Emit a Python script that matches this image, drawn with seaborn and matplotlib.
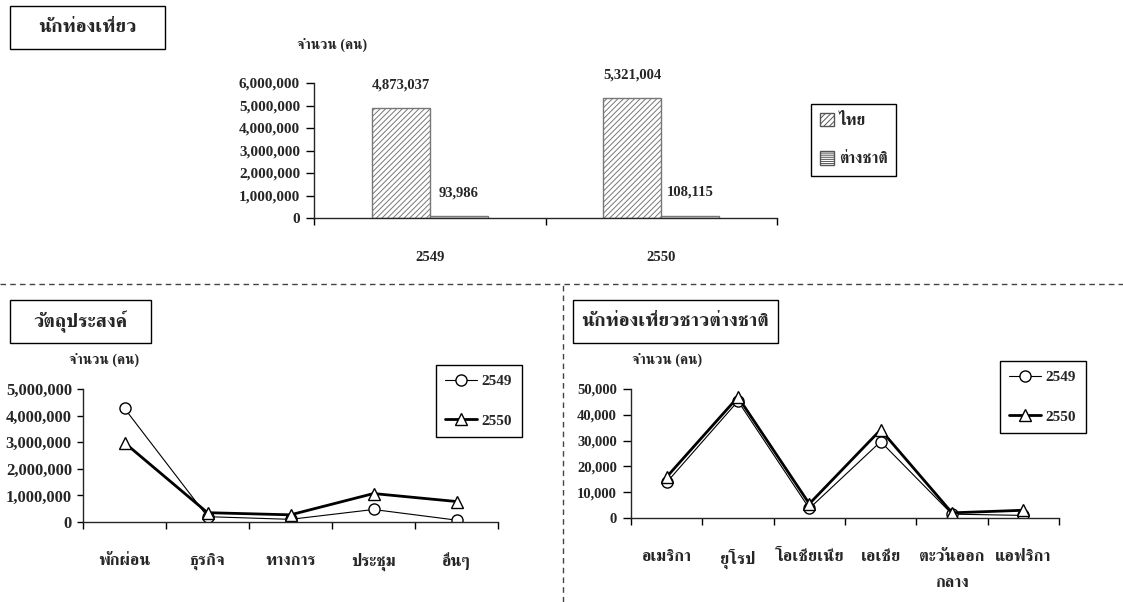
import numpy as np
import pandas as pd
import seaborn as sns
import matplotlib.pyplot as plt
from matplotlib import font_manager
from matplotlib.ft2font import FT2Font
from matplotlib.patches import Patch, Rectangle
from matplotlib.lines import Line2D
from matplotlib.ticker import FuncFormatter

# Tourists by nationality
years = ['2549', '2550']
groups = ['ไทย', 'ต่างชาติ']
thai_tourists = [4873037, 5321004]
foreign_tourists = [93986, 108115]

# Purpose of trip
purposes = ['พักผ่อน', 'ธุรกิจ', 'ทางการ', 'ประชุม', 'อื่นๆ']
purpose_2549 = [4270000, 200000, 100000, 470000, 70000]
purpose_2550 = [2980000, 350000, 270000, 1070000, 770000]

# Foreign tourists by region
regions = ['อเมริกา', 'ยุโรป', 'โอเชียเนีย', 'เอเชีย', 'ตะวันออก\nกลาง', 'แอฟริกา']
region_2549 = [13800, 45300, 3700, 29600, 1500, 1000]
region_2550 = [15900, 46900, 5500, 34200, 2000, 3000]


def find_thai_font():
    # pick an installed family that has Thai glyphs, bold face preferred
    fams = {}
    for f in font_manager.fontManager.ttflist:
        try:
            if 0x0E01 in FT2Font(f.fname).get_charmap():
                w = f.weight if isinstance(f.weight, int) else 400
                fams[f.name] = max(fams.get(f.name, 0), w)
        except Exception:
            continue
    names = sorted(fams, key=lambda n: (fams[n] < 600, 'Serif' not in n, 'Thai' not in n, n))
    return names[0] if names else 'DejaVu Sans'


sns.set_style('ticks')
thai = find_thai_font()
plt.rcParams['font.family'] = ['Liberation Serif', thai, 'DejaVu Sans']
plt.rcParams['font.weight'] = 'bold'
plt.rcParams['hatch.linewidth'] = 0.7
plt.rcParams['axes.linewidth'] = 1.0

W, H = 1123, 602
fig = plt.figure(figsize=(W / 100, H / 100), dpi=100)


def px_box(x0, y0, x1, y1):
    return [x0 / W, 1 - y1 / H, (x1 - x0) / W, (y1 - y0) / H]


def title_box(x0, y0, x1, y1, text):
    fig.add_artist(Rectangle((x0 / W, 1 - y1 / H), (x1 - x0) / W, (y1 - y0) / H,
                             transform=fig.transFigure, fill=False, ec='black', lw=1))
    fig.text((x0 + x1) / 2 / W, 1 - (y0 + y1) / 2 / H, text, ha='center', va='center',
             fontsize=14)


def style_axis(ax, labels, ymax, step, tick_len, label_pad, xsize, ysize):
    n = len(labels)
    ax.set_xlim(-0.5, n - 0.5)
    ax.set_ylim(0, ymax)
    ax.set_yticks(np.arange(0, ymax + 1, step))
    ax.yaxis.set_major_formatter(FuncFormatter(lambda v, p: f'{v:,.0f}'))
    ax.set_xticks(range(n))
    ax.set_xticklabels(labels, fontsize=xsize, linespacing=1.9)
    ax.set_xticks(np.arange(-0.5, n, 1), minor=True)
    ax.tick_params(axis='x', which='major', length=0, pad=label_pad)
    ax.tick_params(axis='x', which='minor', length=5, width=1, color='black')
    ax.tick_params(axis='y', length=tick_len, width=1, color='black', labelsize=ysize,
                   pad=4)
    ax.set_xlabel('')
    ax.set_ylabel('')
    sns.despine(ax=ax)


# ---- top: bar chart ----
ax1 = fig.add_axes(px_box(314, 83, 777, 218))
df_bar = pd.DataFrame({
    'year': years * 2,
    'group': [groups[0]] * 2 + [groups[1]] * 2,
    'value': thai_tourists + foreign_tourists,
})
sns.barplot(data=df_bar, x='year', y='value', hue='group', ax=ax1, width=0.5,
            palette=['white', 'white'], edgecolor='#777777', linewidth=1, legend=False)
hatches = ['//////', '-----']
for cont, hatch in zip(ax1.containers, hatches):
    for bar in cont:
        bar.set_hatch(hatch)
    ax1.bar_label(cont, labels=[f'{v:,.0f}' for v in cont.datavalues], padding=12,
                  fontsize=10.5, fontweight='bold')
style_axis(ax1, years, 6000000, 1000000, 6, 24, 10.5, 11)
handles = [Patch(facecolor='white', edgecolor='#555555', hatch=h)
           for h in ['//////', '--------']]
ax1.legend(handles, groups, loc='upper left', bbox_to_anchor=(811 / W, 1 - 104 / H),
           bbox_transform=fig.transFigure, borderaxespad=0, fancybox=False,
           edgecolor='black', framealpha=1, fontsize=11.5, handlelength=0.9,
           handleheight=0.9, handletextpad=0.3, labelspacing=1.4, borderpad=0.55)
ax1.get_legend().get_frame().set_linewidth(1)
title_box(10, 6, 165, 49, 'นักท่องเที่ยว')
fig.text(332 / W, 1 - 45 / H, 'จำนวน (คน)', ha='center', va='center', fontsize=10)


# ---- line charts ----
def line_panel(box, labels, s1, s2, ymax, step, tick_len, ysize, legend_xy):
    ax = fig.add_axes(px_box(*box))
    x = np.arange(len(labels))
    sns.lineplot(x=x, y=s1, ax=ax, sort=False, color='black', lw=0.8, marker='o',
                 markersize=8, markerfacecolor='white', markeredgecolor='black',
                 markeredgewidth=1, label='2549')
    sns.lineplot(x=x, y=s2, ax=ax, sort=False, color='black', lw=2.0, marker='^',
                 markersize=9, markerfacecolor='white', markeredgecolor='black',
                 markeredgewidth=1, label='2550')
    style_axis(ax, labels, ymax, step, tick_len, 22, 12, ysize)
    leg = ax.legend(loc='upper left', bbox_to_anchor=(legend_xy[0] / W, 1 - legend_xy[1] / H),
                    bbox_transform=fig.transFigure, borderaxespad=0, fancybox=False,
                    edgecolor='black', framealpha=1, fontsize=11, handlelength=2.1,
                    handletextpad=0.3, labelspacing=1.7, borderpad=0.6)
    leg.get_frame().set_linewidth(1)
    return ax


ax2 = line_panel((83, 389, 498, 522), purposes, purpose_2549, purpose_2550,
                 5000000, 1000000, 4, 12, (436, 365))
title_box(10, 300, 151, 343, 'วัตถุประสงค์')
fig.text(104 / W, 1 - 360 / H, 'จำนวน (คน)', ha='center', va='center', fontsize=10)

ax3 = line_panel((631, 389, 1059, 518), regions, region_2549, region_2550,
                 50000, 10000, 6, 10.5, (1000, 361))
title_box(573, 300, 778, 343, 'นักท่องเที่ยวชาวต่างชาติ')
fig.text(667 / W, 1 - 360 / H, 'จำนวน (คน)', ha='center', va='center', fontsize=10)

# dashed separators
fig.add_artist(Line2D([0, 1], [1 - 284 / H] * 2, transform=fig.transFigure,
                      ls=(0, (4, 3)), color='#444444', lw=1))
fig.add_artist(Line2D([563 / W] * 2, [0, 1 - 284 / H], transform=fig.transFigure,
                      ls=(0, (4, 3)), color='#444444', lw=1))

fig.savefig('out.png', dpi=100)
